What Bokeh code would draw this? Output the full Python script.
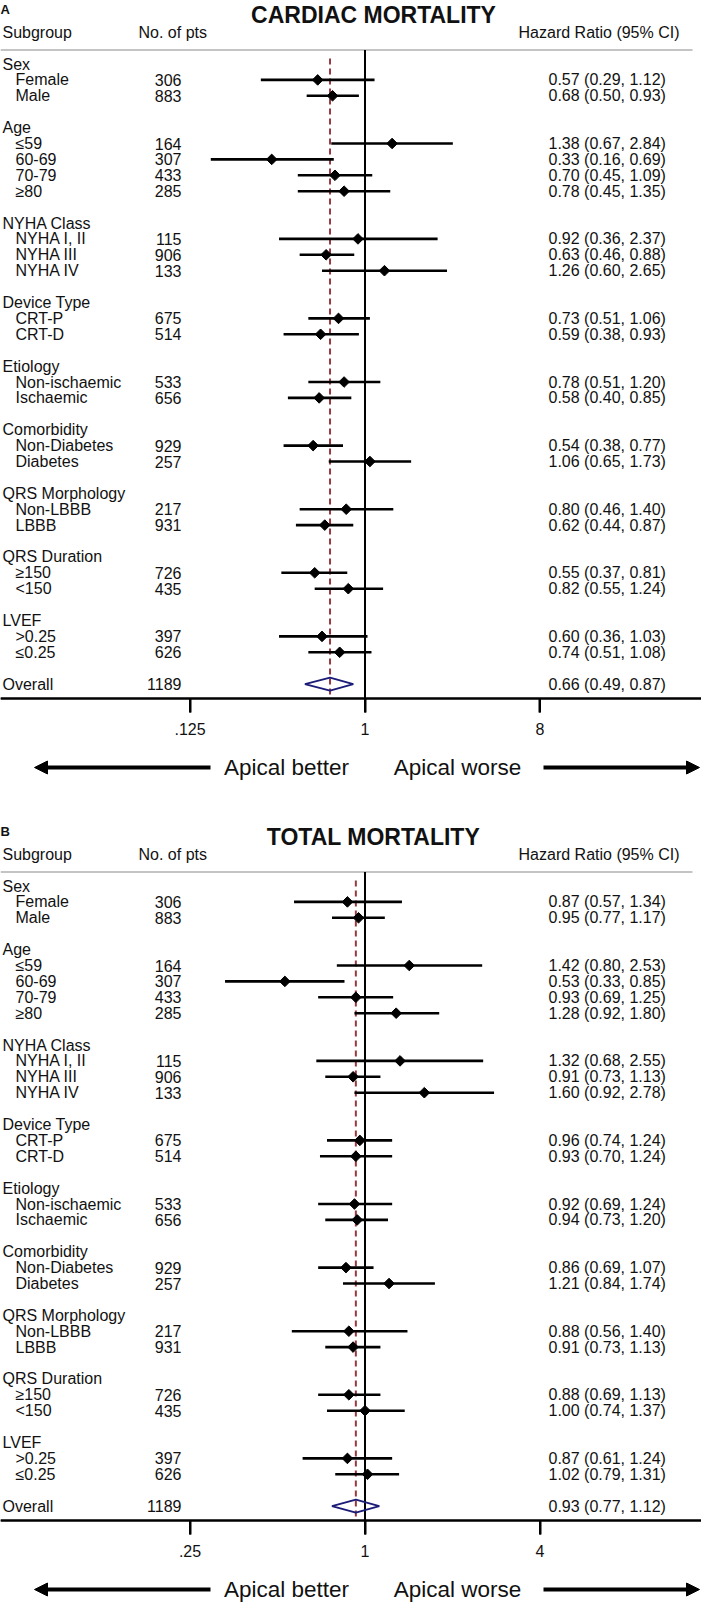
import math
from bokeh.plotting import figure
from bokeh.models import Range1d, LinearScale, LogAxis, FixedTicker, Arrow, NormalHead
from bokeh.layouts import column
from bokeh.core.properties import value
from bokeh.embed import file_html
from bokeh.resources import INLINE

# ---------------- data ----------------
GROUP_NAMES = ["Sex", "Age", "NYHA Class", "Device Type", "Etiology",
               "Comorbidity", "QRS Morphology", "QRS Duration", "LVEF"]
GROUP_SIZES = [2, 4, 3, 2, 2, 2, 2, 2, 2]
SUBGROUPS = ["Female", "Male", "≤59", "60-69", "70-79", "≥80",
             "NYHA I, II", "NYHA III", "NYHA IV", "CRT-P", "CRT-D",
             "Non-ischaemic", "Ischaemic", "Non-Diabetes", "Diabetes",
             "Non-LBBB", "LBBB", "≥150", "<150", ">0.25", "≤0.25"]
N_PTS = [306, 883, 164, 307, 433, 285, 115, 906, 133, 675, 514,
         533, 656, 929, 257, 217, 931, 726, 435, 397, 626]

# Cardiac mortality
HR_A = [0.57, 0.68, 1.38, 0.33, 0.70, 0.78, 0.92, 0.63, 1.26, 0.73, 0.59,
        0.78, 0.58, 0.54, 1.06, 0.80, 0.62, 0.55, 0.82, 0.60, 0.74]
LO_A = [0.29, 0.50, 0.67, 0.16, 0.45, 0.45, 0.36, 0.46, 0.60, 0.51, 0.38,
        0.51, 0.40, 0.38, 0.65, 0.46, 0.44, 0.37, 0.55, 0.36, 0.51]
HI_A = [1.12, 0.93, 2.84, 0.69, 1.09, 1.35, 2.37, 0.88, 2.65, 1.06, 0.93,
        1.20, 0.85, 0.77, 1.73, 1.40, 0.87, 0.81, 1.24, 1.03, 1.08]
OVERALL_A = [0.66, 0.49, 0.87]

# Total mortality
HR_B = [0.87, 0.95, 1.42, 0.53, 0.93, 1.28, 1.32, 0.91, 1.60, 0.96, 0.93,
        0.92, 0.94, 0.86, 1.21, 0.88, 0.91, 0.88, 1.00, 0.87, 1.02]
LO_B = [0.57, 0.77, 0.80, 0.33, 0.69, 0.92, 0.68, 0.73, 0.92, 0.74, 0.70,
        0.69, 0.73, 0.69, 0.84, 0.56, 0.73, 0.69, 0.74, 0.61, 0.79]
HI_B = [1.34, 1.17, 2.53, 0.85, 1.25, 1.80, 2.55, 1.13, 2.78, 1.24, 1.24,
        1.24, 1.20, 1.07, 1.74, 1.40, 1.13, 1.13, 1.37, 1.24, 1.31]
OVERALL_B = [0.93, 0.77, 1.12]
OVERALL_N = 1189

TICKS_A = [0.125, 1, 8]
TICK_LABELS_A = [".125", "1", "8"]
TICKS_B = [0.25, 1, 4]
TICK_LABELS_B = [".25", "1", "4"]

# ---------------- layout constants ----------------
W = 701
FONT = "Liberation Sans"
ROW0 = 63.5
DY = 15.9
AXIS_Y = 698           # y of the x axis line (pixels from panel top)
TICK_LEN = 14
ONE_X = 364.5          # pixel position of HR = 1
ARROW_Y = 767
NAVY = "#1b1b78"
DASH = "#953a3f"
INK = "#111111"


def build_rows():
    rows = []
    k = 0
    for g, size in zip(GROUP_NAMES, GROUP_SIZES):
        rows.append(("group", g, None))
        for _ in range(size):
            rows.append(("sub", SUBGROUPS[k], k))
            k += 1
        rows.append(("blank", "", None))
    rows.append(("overall", "Overall", None))
    return rows


def make_panel(letter, title, hr, lo, hi, overall, ticks, tick_labels,
               px_per_doubling, height):
    lo_exp = -ONE_X / px_per_doubling
    hi_exp = (W - ONE_X) / px_per_doubling
    x_lo, x_hi = 2 ** lo_exp, 2 ** hi_exp
    one_px = 2 ** (1.0 / px_per_doubling)       # one pixel on the log scale
    p = figure(width=W, height=height, x_axis_type="log",
               x_range=Range1d(x_lo, x_hi),
               y_range=Range1d(height, 0),
               x_axis_location=None, y_axis_location=None,
               output_backend="svg", toolbar_location=None,
               min_border=0, outline_line_color=None,
               background_fill_color="white", border_fill_color="white")
    p.extra_x_ranges = {"px": Range1d(0, W)}
    p.extra_x_scales = {"px": LinearScale()}
    for g in p.grid:
        g.grid_line_color = "white"

    rows = build_rows()

    left_x, left_y, left_t = [], [], []
    n_y, n_t = [], []
    hr_y, hr_t = [], []
    sub_y = []
    y_over = None
    for r, (kind, lab, idx) in enumerate(rows):
        y = ROW0 + r * DY
        if kind in ("group", "overall"):
            left_x.append(2); left_y.append(y); left_t.append(lab)
        if kind == "sub":
            left_x.append(15); left_y.append(y); left_t.append(lab)
            n_y.append(y); n_t.append(str(N_PTS[idx]))
            hr_y.append(y)
            hr_t.append(f"{hr[idx]:.2f} ({lo[idx]:.2f}, {hi[idx]:.2f})")
            sub_y.append(y)
        if kind == "overall":
            n_y.append(y); n_t.append(str(OVERALL_N))
            hr_y.append(y)
            hr_t.append(f"{overall[0]:.2f} ({overall[1]:.2f}, {overall[2]:.2f})")
            y_over = y

    # header separator: thin gray band across the panel
    p.quad(left=[x_lo], right=[x_hi / one_px ** 9], top=[48.5], bottom=[50.5],
           fill_color="#c4c4c4", line_color=None)
    # x-axis rule across the whole width
    p.quad(left=[x_lo], right=[x_hi], top=[AXIS_Y - 1], bottom=[AXIS_Y + 1],
           fill_color="black", line_color=None)
    # axis ticks: 2px-wide bars at the tick values
    p.quad(left=[t / one_px for t in ticks], right=[t * one_px for t in ticks],
           top=[AXIS_Y] * len(ticks), bottom=[AXIS_Y + TICK_LEN] * len(ticks),
           fill_color="black", line_color=None)

    common = dict(x_range_name="px", text_font=value(FONT),
                  text_font_size="16px", text_baseline="middle",
                  text_color=INK)
    p.text(x=left_x, y=left_y, text=left_t, text_align="left", **common)
    p.text(x=[181] * len(n_y), y=n_y, text=n_t, text_align="right", **common)
    p.text(x=[548] * len(hr_y), y=hr_y, text=hr_t, text_align="left", **common)

    # header
    p.text(x=[2], y=[32], text=["Subgroup"], text_align="left", **common)
    p.text(x=[138], y=[32], text=["No. of pts"], text_align="left", **common)
    p.text(x=[679], y=[32], text=["Hazard Ratio (95% CI)"], text_align="right", **common)

    # title and panel letter
    p.text(x=[373], y=[1], text=[title], x_range_name="px",
           text_font=value(FONT), text_font_size="23px", text_font_style="bold",
           text_align="center", text_baseline="top", text_color=INK)
    p.text(x=[0], y=[9], text=[letter], x_range_name="px",
           text_font=value(FONT), text_font_size="13px", text_font_style="bold",
           text_align="left", text_baseline="middle", text_color=INK)

    # reference lines
    p.segment(x0=[overall[0]], x1=[overall[0]], y0=[58], y1=[AXIS_Y - 4],
              line_color=DASH, line_width=2, line_dash="6 4")
    p.segment(x0=[1], x1=[1], y0=[49.5], y1=[AXIS_Y], line_color="black",
              line_width=2)

    # CIs and point estimates
    p.segment(x0=lo, x1=hi, y0=sub_y, y1=sub_y, line_color="black",
              line_width=2.6)
    p.scatter(x=hr, y=sub_y, marker="square", angle=math.pi / 4, size=7.5,
              fill_color="black", line_color="black")

    # overall diamond
    est, olo, ohi = overall
    p.patch(x=[olo, est, ohi, est],
            y=[y_over, y_over - 6.5, y_over, y_over + 6.5],
            fill_color=None, line_color=NAVY, line_width=2)

    # x axis labels
    ax = LogAxis(ticker=FixedTicker(ticks=ticks),
                 fixed_location=AXIS_Y,
                 major_label_overrides={t: l for t, l in zip(ticks, tick_labels)},
                 major_tick_out=TICK_LEN, major_tick_in=0,
                 minor_tick_out=0, minor_tick_in=0,
                 axis_line_width=2, axis_line_color="black",
                 major_tick_line_width=2, major_tick_line_color="black",
                 major_label_text_font=FONT,
                 major_label_text_font_size="16px",
                 major_label_text_color=INK,
                 major_label_standoff=10)
    p.add_layout(ax, "below")

    # direction arrows
    p.add_layout(Arrow(end=NormalHead(size=13, fill_color="black", line_color="black"),
                       x_start=210, y_start=ARROW_Y, x_end=34, y_end=ARROW_Y,
                       line_width=4, line_color="black", x_range_name="px"))
    p.add_layout(Arrow(end=NormalHead(size=13, fill_color="black", line_color="black"),
                       x_start=543, y_start=ARROW_Y, x_end=699, y_end=ARROW_Y,
                       line_width=4, line_color="black", x_range_name="px"))
    arrow_txt = dict(x_range_name="px", text_font=value(FONT),
                     text_font_size="22.5px", text_baseline="middle",
                     text_align="center", text_color=INK)
    p.text(x=[286], y=[ARROW_Y], text=["Apical better"], **arrow_txt)
    p.text(x=[457], y=[ARROW_Y], text=["Apical worse"], **arrow_txt)
    return p


pA = make_panel("A", "CARDIAC MORTALITY", HR_A, LO_A, HI_A, OVERALL_A,
                TICKS_A, TICK_LABELS_A, 58.33, 822)
pB = make_panel("B", "TOTAL MORTALITY", HR_B, LO_B, HI_B, OVERALL_B,
                TICKS_B, TICK_LABELS_B, 87.5, 787)

layout = column(pA, pB, spacing=0)
open("out.html", "w").write(file_html(layout, INLINE))
